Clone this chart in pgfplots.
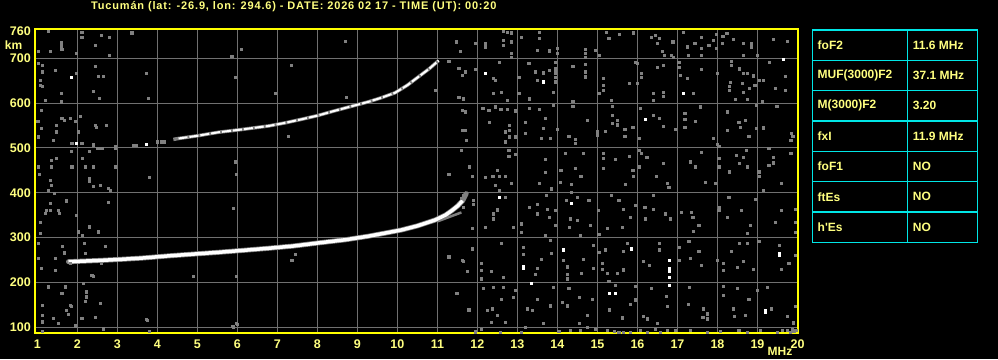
\documentclass[border=0pt]{standalone}
\usepackage{fontspec}
\setmainfont{Liberation Sans}
\newfontfamily\titlefont[LetterSpace=7.5]{Liberation Sans}
\usepackage{pgfplots}
\usepackage{pgfplotstable}
\pgfplotsset{compat=1.18}
\definecolor{txtyel}{RGB}{255,255,128}
\definecolor{frameyel}{RGB}{255,255,0}
\definecolor{gridgray}{RGB}{112,112,112}
\definecolor{noisegray}{RGB}{128,128,128}
\definecolor{tabcyan}{RGB}{0,230,230}

\pgfplotstableread{
x y
12.65 761
12.74 759
12.84 757
12.64 741
12.84 737
12.65 730
12.2 733
12.2 726
11.95 733
13.1 748
13.54 744
13.54 759
13.49 718
13.8 717
13.99 722
13.99 712
12.85 712
12.85 703
14.7 721
14.7 711
14.95 718
14.7 702
15.05 707
15.22 759
15.28 744
15.55 753
15.89 757
16.35 748
16.45 752
16.54 744
16.49 733
16.61 715
16.67 707
16.88 737
16.84 707
16.9 703
17.14 759
17.24 726
17.26 707
17.43 733
17.59 748
17.59 722
17.59 707
17.78 730
17.9 741
17.97 754
17.97 722
18.13 750
18.23 756
18.39 742
18.11 733
18.64 733
18.84 733
18.84 726
18.64 707
18.99 707
19.39 742
19.74 739
12.54 692
12.4 655
12.45 651
12.59 625
12.4 622
12.74 607
13.03 657
13.03 622
13.28 689
13.3 610
13.44 670
13.5 651
13.65 668
13.8 674
13.94 692
13.94 677
13.94 668
13.94 657
13.94 648
13.89 625
14.38 683
14.7 687
14.7 670
14.7 659
15.14 655
15.14 640
15.14 629
15.03 622
15.35 607
15.8 644
15.99 644
15.99 689
15.94 692
16.1 666
16.1 657
16.49 680
16.64 684
16.4 622
16.64 625
16.64 616
16.4 607
17.03 681
17.03 692
17.07 663
17.24 655
17.39 622
17.59 675
17.99 666
18.34 694
18.34 684
18.32 646
18.3 638
18.3 629
18.55 677
18.64 666
18.74 666
18.89 661
18.61 644
18.8 634
18.93 640
18.64 625
19.04 651
19.15 651
19.3 692
19.44 633
19.69 660
19.69 629
18.74 608
18.44 608
19.11 603
11.64 610
11.7 670
11.95 675
11.7 581
12.28 584
12.13 588
12.44 592
12.58 587
12.74 587
12.94 583
12.29 558
12.8 551
12.8 540
12.7 536
12.8 525
12.7 514
12.94 525
11.72 517
11.7 540
13.2 558
13.2 532
13.3 588
13.54 587
13.69 566
13.64 544
13.59 521
13.82 521
14.0 541
13.9 596
14.38 605
14.38 593
14.74 562
14.99 536
14.99 529
14.44 520
14.44 510
14.28 526
15.36 593
15.36 573
15.49 562
15.36 555
15.49 552
15.68 541
15.68 526
15.19 538
15.88 547
16.07 588
16.4 573
16.54 566
16.65 549
16.04 521
16.94 541
17.18 577
17.18 564
17.18 547
17.45 559
17.57 592
17.9 521
17.99 509
18.24 581
18.24 540
18.53 558
18.57 547
18.69 562
18.78 526
18.97 544
19.14 545
18.97 596
19.48 593
19.84 532
19.88 526
19.83 517
11.6 495
11.8 458
11.86 437
12.2 434
12.38 436
12.55 437
12.7 437
12.5 450
12.78 495
12.78 482
12.94 486
13.69 474
13.69 445
14.08 450
14.19 488
14.64 488
14.44 454
14.58 437
15.14 489
15.14 477
15.14 454
15.44 474
15.8 482
15.88 450
15.9 436
16.04 495
16.1 488
16.23 479
16.04 458
16.47 436
16.65 465
17.32 469
17.44 458
17.59 491
18.03 503
18.03 477
18.03 458
18.3 447
18.47 484
18.64 480
18.55 465
18.72 495
18.74 458
19.03 447
19.05 437
19.28 499
19.28 462
19.39 480
19.39 467
19.83 488
12.45 416
12.55 405
12.7 390
12.84 421
11.65 394
11.6 387
11.9 383
11.9 375
11.64 368
12.39 353
12.5 362
12.39 342
11.86 320
12.2 323
12.9 323
13.1 331
13.1 312
13.3 368
13.49 375
13.49 353
13.72 394
13.75 364
13.94 361
13.8 346
13.94 327
13.7 305
13.55 421
13.84 409
14.07 424
14.35 419
14.35 401
14.22 383
14.49 390
14.78 383
14.32 342
14.3 323
14.49 338
14.82 327
14.57 305
15.02 361
15.03 308
15.24 320
15.35 394
15.53 383
15.65 364
15.61 323
15.82 346
15.7 419
15.94 372
16.18 368
16.4 394
16.4 364
16.2 342
16.69 353
16.82 342
16.74 421
16.78 413
17.09 357
17.34 357
17.38 346
17.53 327
17.4 314
17.7 424
17.95 421
18.03 361
18.05 368
18.28 390
18.24 346
18.6 361
18.82 327
18.95 386
18.74 310
19.45 334
19.59 361
19.95 364
19.95 334
19.59 421
19.14 405
19.95 312
11.86 275
11.64 247
12.09 243
11.74 225
12.09 227
12.34 225
12.64 212
12.09 208
12.59 288
13.15 279
13.14 262
13.45 219
13.59 251
13.5 232
13.82 294
13.84 265
14.14 249
14.24 235
14.24 219
14.24 208
14.65 251
14.59 221
14.9 282
14.9 232
15.03 267
15.19 273
15.11 243
15.11 230
15.24 221
15.64 269
15.74 288
15.65 228
15.49 221
15.28 203
16.14 247
16.3 238
16.55 288
16.55 273
17.04 279
17.04 249
17.28 291
17.32 253
17.53 269
17.59 238
17.99 250
18.15 243
18.15 227
18.34 270
18.49 234
18.64 247
18.55 288
18.74 288
18.89 230
19.03 292
19.55 282
19.59 230
19.78 243
19.95 260
12.14 186
12.39 189
12.64 189
12.9 167
12.94 182
12.59 163
11.8 137
12.24 137
12.36 141
12.49 126
12.34 111
12.7 111
13.36 137
13.24 141
13.49 163
13.64 108
13.82 148
13.89 189
14.28 186
14.11 156
14.25 148
14.55 167
14.86 163
14.74 126
14.55 108
15.45 193
15.29 139
15.61 121
15.94 191
15.94 161
15.82 152
16.14 124
16.24 119
16.34 186
16.49 108
16.72 169
16.74 146
17.26 152
17.3 189
17.64 141
17.74 130
17.74 119
17.63 122
18.15 191
18.15 171
18.39 141
18.42 124
18.49 186
18.7 126
18.78 163
18.99 183
19.34 141
19.24 189
19.95 146
19.74 124
19.89 111
11.95 89
12.09 96
12.57 89
13.1 89
13.2 100
14.03 91
14.32 93
14.57 93
14.74 100
14.95 96
15.24 93
15.42 91
15.53 89
15.65 89
15.82 89
16.07 93
16.24 89
16.44 96
16.57 89
16.74 93
16.94 94
17.32 93
17.74 89
18.07 91
18.53 93
18.74 89
19.07 93
19.49 89
19.61 93
19.74 93
19.86 96
19.9 108
19.82 89
19.92 91
19.96 94
19.88 92
11.78 139
11.94 90
12.09 96
1.28 761
1.59 735
1.59 727
1.32 715
1.03 715
1.98 711
2.11 759
2.11 747
2.44 730
2.59 752
2.79 748
2.79 707
3.36 757
1.61 720
1.03 689
1.13 685
1.13 670
1.44 674
1.98 666
2.44 683
2.53 660
2.65 660
2.4 626
2.54 611
1.59 622
1.07 652
1.07 640
1.13 637
1.19 607
1.59 603
3.73 666
3.78 611
5.94 657
5.86 704
6.09 720
6.94 622
7.34 685
8.69 739
8.73 614
10.94 629
11.46 737
11.57 715
11.28 693
11.53 678
11.61 663
11.53 614
11.61 585
11.61 540
1.09 585
1.01 559
1.09 544
1.03 525
1.61 566
1.68 561
1.82 566
1.94 559
2.07 570
1.48 551
1.48 536
1.4 518
2.44 551
2.48 547
2.73 551
2.03 536
2.11 510
2.61 499
2.51 499
2.4 507
2.29 492
2.94 503
3.40 506
3.46 506
4.0 514
4.1 514
4.18 514
1.86 510
7.28 527
11.28 442
11.59 494
1.34 473
1.34 458
1.32 428
1.34 417
1.28 406
1.03 458
1.04 442
1.48 477
1.84 492
1.86 458
2.13 477
2.19 458
2.29 432
2.29 425
2.4 458
2.4 414
2.57 417
2.78 410
2.94 458
2.94 499
3.79 434
5.94 469
5.98 442
1.07 335
1.07 309
1.32 376
1.23 361
1.32 361
1.19 354
1.53 361
1.54 354
1.73 382
1.43 399
1.98 350
2.03 313
2.13 306
2.29 324
2.53 313
2.78 378
2.82 406
5.9 365
11.28 257
11.61 250
1.03 287
1.03 254
1.09 231
1.44 254
1.63 280
1.68 266
1.44 227
1.82 242
2.18 287
2.19 265
2.36 216
2.4 213
2.59 242
2.69 280
4.9 213
5.98 213
7.44 263
7.36 250
1.28 190
1.13 149
1.13 127
1.13 112
1.4 120
1.53 109
1.61 175
1.69 190
1.82 149
1.73 138
1.78 129
1.84 146
2.11 120
2.15 198
2.23 179
2.23 168
2.19 157
2.44 123
2.57 153
2.65 97
3.73 117
1.94 102
5.88 102
5.97 109
11.48 175
1.13 90
1.94 103
2.64 96
3.74 116
3.79 90
5.89 101
5.99 107
}\noisegray

\pgfplotstableread{
x y
12.2 666
13.64 648
17.14 622
16.2 564
19.64 698
12.55 390
14.35 377
13.14 236
13.14 232
13.34 198
14.14 273
15.85 275
16.79 249
16.79 232
16.79 225
16.79 212
16.79 193
19.55 264
19.55 260
15.29 175
15.45 175
19.2 137
19.2 133
1.84 657
1.98 510
3.73 508
}\noisewhite

\begin{document}
\begin{tikzpicture}[x=1pt,y=1pt]
\fill[black] (0pt,0pt) rectangle (998pt,359pt);
\begin{axis}[
  at={(35.5pt,25.7pt)}, anchor=south west,
  scale only axis, width=762pt, height=303.8pt,
  xmin=0.955, xmax=20, ymin=86.2, ymax=764.3,
  axis line style={draw=frameyel, line width=2pt},
  xtick={2,...,19}, ytick={100,200,...,700},
  extra x ticks={1,20}, extra y ticks={760},
  extra tick style={grid=none},
  grid=major,
  major grid style={draw=gridgray, line width=1pt},
  major tick length=0pt, tick style={draw=none},
  ticklabel style={font=\bfseries\fontsize{12.5}{14}\selectfont, text=txtyel, inner sep=0pt},
  xticklabel style={anchor=north, yshift=-6.7pt},
  yticklabel style={anchor=east, xshift=-4.5pt},
  /pgf/number format/assume math mode=true,
  axis background/.style={fill=black},
]
\addplot[only marks, mark=square*, mark size=1.1pt, color=noisegray, mark options={draw=none, fill=noisegray}] table[x=x,y=y] {\noisegray};
\addplot[only marks, mark=square*, mark size=1.1pt, color=white, mark options={draw=none, fill=white}] table[x=x,y=y] {\noisewhite};
% lower F2 trace
\addplot[draw=noisegray, line width=5pt, line cap=round] coordinates {
(1.78,246) (2.2,247.5) (2.6,249) (3.03,251) (3.6,254) (4.28,259) (4.9,263) (5.53,267) (6.1,271) (6.78,276) (7.4,281) (8.03,288) (8.7,295) (9.28,303) (9.7,310) (10.11,317) (10.5,326) (10.94,339) (11.2,350) (11.36,360) (11.5,370) (11.63,382) (11.72,398)};
\addplot[draw=noisegray, line width=2.5pt] coordinates {(11.0,336) (11.3,346) (11.6,356)};
\addplot[draw=white, line width=3.5pt] coordinates {
(1.78,246) (2.2,247.5) (2.6,249) (3.03,251) (3.6,254) (4.28,259) (4.9,263) (5.53,267) (6.1,271) (6.78,276) (7.4,281) (8.03,288) (8.7,295) (9.28,303) (9.7,310) (10.11,317) (10.5,326) (10.94,339) (11.2,350) (11.36,360) (11.5,370) (11.63,382)};
% upper (second hop) trace
\addplot[draw=noisegray, line width=3.5pt] coordinates {
(4.4,519) (4.53,521) (5.0,527) (5.53,535) (6.1,541) (6.78,549) (7.2,556) (7.61,564) (8.0,572) (8.44,583) (8.9,594) (9.28,603) (9.6,612) (9.94,623) (10.25,640) (10.53,659) (10.8,677) (11.03,695)};
\addplot[draw=white, line width=2pt, dash pattern=on 9pt off 2pt] coordinates {
(4.53,521) (5.0,527) (5.53,535) (6.1,541) (6.78,549) (7.2,556) (7.61,564) (8.0,572) (8.44,583) (8.9,594) (9.28,603) (9.6,612) (9.94,623) (10.25,640) (10.53,659) (10.8,677) (11.03,695)};
\end{axis}
% title and unit labels
\node[anchor=west, inner sep=0pt, text=txtyel, font=\titlefont\bfseries\fontsize{11}{13}\selectfont] at (91pt,352pt) {Tucumán (lat: -26.9, lon: 294.6) - DATE: 2026 02 17 - TIME (UT): 00:20};
\node[inner sep=0pt, text=txtyel, font=\bfseries\fontsize{12}{14}\selectfont] at (13.5pt,314pt) {km};
\node[inner sep=0pt, text=txtyel, font=\bfseries\fontsize{12}{14}\selectfont] at (780pt,7.5pt) {MHz};
% parameter table
\begin{scope}[tabcyan, line width=1.5pt]
\draw (812.3pt,329pt) rectangle (977.5pt,116.7pt);
\foreach \k in {1,...,6} {\draw (812.3pt,329pt-\k*30.33pt) -- (977.5pt,329pt-\k*30.33pt);}
\draw (907.3pt,329pt) -- (907.3pt,116.7pt);
\end{scope}
\begin{scope}[every node/.style={anchor=west, inner sep=0pt, text=txtyel, font=\bfseries\fontsize{12}{14}\selectfont}]
\node at (817.5pt,329pt-0.5*30.33pt) {foF2};
\node at (912.7pt,329pt-0.5*30.33pt) {11.6 MHz};
\node at (817.5pt,329pt-1.5*30.33pt) {MUF(3000)F2};
\node at (912.7pt,329pt-1.5*30.33pt) {37.1 MHz};
\node at (817.5pt,329pt-2.5*30.33pt) {M(3000)F2};
\node at (912.7pt,329pt-2.5*30.33pt) {3.20};
\node at (817.5pt,329pt-3.5*30.33pt) {fxI};
\node at (912.7pt,329pt-3.5*30.33pt) {11.9 MHz};
\node at (817.5pt,329pt-4.5*30.33pt) {foF1};
\node at (912.7pt,329pt-4.5*30.33pt) {NO};
\node at (817.5pt,329pt-5.5*30.33pt) {ftEs};
\node at (912.7pt,329pt-5.5*30.33pt) {NO};
\node at (817.5pt,329pt-6.5*30.33pt) {h\textquotesingle Es};
\node at (912.7pt,329pt-6.5*30.33pt) {NO};
\end{scope}
\end{tikzpicture}
\end{document}
